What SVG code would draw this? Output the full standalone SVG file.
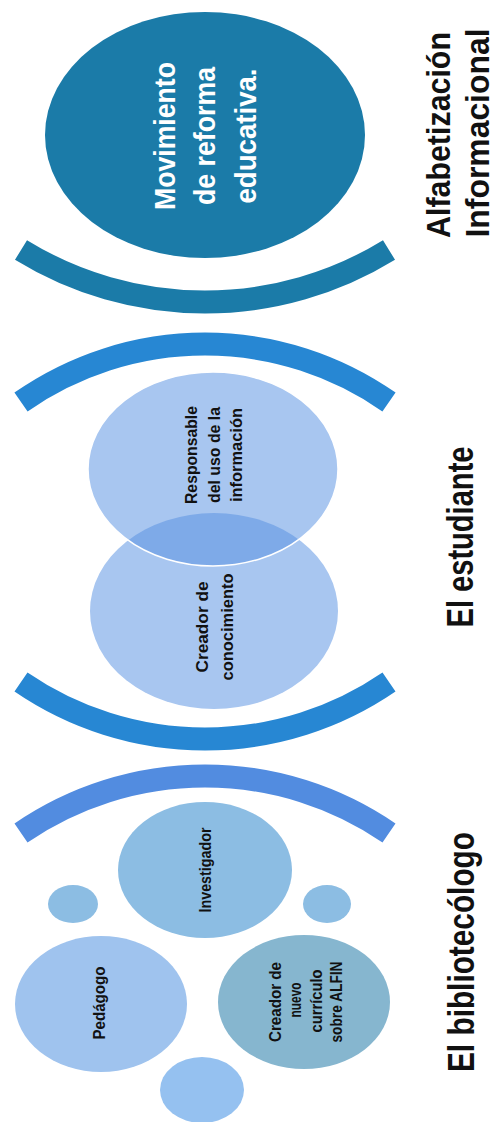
<svg xmlns="http://www.w3.org/2000/svg" width="501" height="1122" viewBox="0 0 501 1122">
<style>
text{font-family:"Liberation Sans",Arial,sans-serif;font-weight:bold;text-anchor:middle}
.t{fill:#111}
.w{fill:#fff}
.arc{fill:none;stroke-width:23;stroke-linecap:butt}
</style>
<defs>
<clipPath id="clipTop"><ellipse cx="213" cy="469" rx="125" ry="97"/></clipPath>
</defs>
<rect width="501" height="1122" fill="#fff"/>
<g id="connectors">
<path class="arc" stroke="#1b7ba8" d="M21,250 A351.5,351.5 0 0 0 389,250"/>
<path class="arc" stroke="#2787d3" d="M21,402 A321,321 0 0 1 389,402"/>
<path class="arc" stroke="#2787d3" d="M21,682 A325.5,325.5 0 0 0 389,682"/>
<path class="arc" stroke="#528ce0" d="M21,833 A325.5,325.5 0 0 1 389,833"/>
</g>
<g id="movimiento">
<ellipse cx="205" cy="135" rx="160" ry="123" fill="#1b7ba8"/>
<text class="w" font-size="30" textLength="148" lengthAdjust="spacingAndGlyphs" transform="translate(175,136) rotate(-90)">Movimiento</text>
<text class="w" font-size="30" textLength="138" lengthAdjust="spacingAndGlyphs" transform="translate(215,136) rotate(-90)">de reforma</text>
<text class="w" font-size="30" textLength="135" lengthAdjust="spacingAndGlyphs" transform="translate(256,136) rotate(-90)">educativa.</text>
</g>
<g id="title-alfin">
<text class="t" font-size="34" textLength="206" lengthAdjust="spacingAndGlyphs" transform="translate(450,135) rotate(-90)">Alfabetización</text>
<text class="t" font-size="34" textLength="209" lengthAdjust="spacingAndGlyphs" transform="translate(489,133) rotate(-90)">Informacional</text>
</g>
<g id="creador-conocimiento">
<ellipse cx="214" cy="611" rx="124" ry="98" fill="#a8c6f0"/>
</g>
<g id="responsable">
<ellipse cx="213" cy="469" rx="125" ry="97" fill="#a8c6f0"/>
<ellipse cx="214" cy="611" rx="124" ry="98" fill="#7eaae8" clip-path="url(#clipTop)"/>
<ellipse cx="213" cy="469" rx="125" ry="97" fill="none" stroke="#fff" stroke-width="1.5"/>
<text class="t" font-size="17" textLength="98" lengthAdjust="spacingAndGlyphs" transform="translate(197,455) rotate(-90)">Responsable</text>
<text class="t" font-size="17" textLength="96" lengthAdjust="spacingAndGlyphs" transform="translate(220,455) rotate(-90)">del uso de la</text>
<text class="t" font-size="17" textLength="94" lengthAdjust="spacingAndGlyphs" transform="translate(242,455) rotate(-90)">información</text>
</g>
<g id="creador-conocimiento-label">
<text class="t" font-size="17" textLength="91" lengthAdjust="spacingAndGlyphs" transform="translate(208,627) rotate(-90)">Creador de</text>
<text class="t" font-size="17" textLength="107" lengthAdjust="spacingAndGlyphs" transform="translate(233,627) rotate(-90)">conocimiento</text>
</g>
<g id="title-estudiante">
<text class="t" font-size="36" textLength="181" lengthAdjust="spacingAndGlyphs" transform="translate(473,537) rotate(-90)">El estudiante</text>
</g>
<g id="investigador">
<ellipse cx="205" cy="870" rx="87" ry="68" fill="#8cbde3"/>
<text class="t" font-size="16" textLength="85" lengthAdjust="spacingAndGlyphs" transform="translate(211,870) rotate(-90)">Investigador</text>
</g>
<g id="dot-left"><ellipse cx="73" cy="904" rx="25" ry="19" fill="#8cbde3"/></g>
<g id="dot-right"><ellipse cx="327" cy="904" rx="24" ry="19" fill="#8cbde3"/></g>
<g id="pedagogo">
<ellipse cx="101" cy="1004" rx="86" ry="68" fill="#9fc3ee"/>
<text class="t" font-size="16" textLength="73" lengthAdjust="spacingAndGlyphs" transform="translate(105,1003) rotate(-90)">Pedágogo</text>
</g>
<g id="creador-curriculo">
<ellipse cx="304" cy="1002" rx="86" ry="67" fill="#86b6cf"/>
<text class="t" font-size="16" textLength="80" lengthAdjust="spacingAndGlyphs" transform="translate(281,1002) rotate(-90)">Creador de</text>
<text class="t" font-size="16" textLength="35" lengthAdjust="spacingAndGlyphs" transform="translate(301,1000) rotate(-90)">nuevo</text>
<text class="t" font-size="16" textLength="63" lengthAdjust="spacingAndGlyphs" transform="translate(322,1001) rotate(-90)">currículo</text>
<text class="t" font-size="16" textLength="81" lengthAdjust="spacingAndGlyphs" transform="translate(342,1002) rotate(-90)">sobre ALFIN</text>
</g>
<g id="dot-bottom"><ellipse cx="202" cy="1090" rx="42" ry="33" fill="#95c1f0"/></g>
<g id="title-bibliotecologo">
<text class="t" font-size="36" textLength="240" lengthAdjust="spacingAndGlyphs" transform="translate(474,952) rotate(-90)">El bibliotecólogo</text>
</g>
</svg>
